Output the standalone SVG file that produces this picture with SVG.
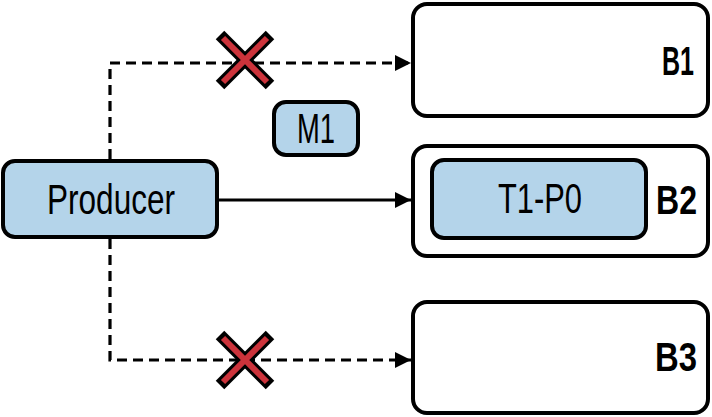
<svg xmlns="http://www.w3.org/2000/svg" width="712" height="417" viewBox="0 0 712 417">
  <style>
    .box { fill: #ffffff; stroke: #000000; stroke-width: 4; }
    .blue { fill: #b4d4ea; stroke: #000000; stroke-width: 4; }
    .lbl { font-family: "Liberation Sans", Arial, sans-serif; font-size: 42px; fill: #000000; }
    .bold { font-weight: bold; font-size: 40px; }
    .conn { fill: none; stroke: #000000; stroke-width: 3.2; }
    .dash { stroke-dasharray: 10 6; }
    .xo { stroke: #000000; stroke-width: 12; stroke-linecap: butt; }
    .xi { stroke: #cc333b; stroke-width: 6; stroke-linecap: butt; }
  </style>
  <defs>
    <marker id="arrow" viewBox="0 0 16 16" refX="16" refY="8" markerWidth="16" markerHeight="16" markerUnits="userSpaceOnUse" orient="auto">
      <path d="M0,0 L16,8 L0,16 Z" fill="#000000"/>
    </marker>
  </defs>

  <g id="connectors">
    <path class="conn dash" d="M110,159 V63 H411" marker-end="url(#arrow)"/>
    <path class="conn dash" d="M110,239 V360 H411" marker-end="url(#arrow)"/>
    <path class="conn" d="M219,200 H411" marker-end="url(#arrow)"/>
    <g id="x-top">
      <line class="xo" x1="220" y1="35" x2="270" y2="85"/>
      <line class="xo" x1="270" y1="35" x2="220" y2="85"/>
      <line class="xi" x1="223" y1="38" x2="267" y2="82"/>
      <line class="xi" x1="267" y1="38" x2="223" y2="82"/>
    </g>
    <g id="x-bottom">
      <line class="xo" x1="220" y1="335" x2="270" y2="385"/>
      <line class="xo" x1="270" y1="335" x2="220" y2="385"/>
      <line class="xi" x1="223" y1="338" x2="267" y2="382"/>
      <line class="xi" x1="267" y1="338" x2="223" y2="382"/>
    </g>
  </g>

  <g id="B1">
    <rect class="box" x="413" y="4" width="295" height="112" rx="14"/>
    <text class="lbl bold" x="694" y="75" text-anchor="end" textLength="32" lengthAdjust="spacingAndGlyphs">B1</text>
  </g>
  <g id="B2">
    <rect class="box" x="413" y="146" width="295" height="110" rx="14"/>
    <text class="lbl bold" x="697" y="214" text-anchor="end" textLength="41" lengthAdjust="spacingAndGlyphs">B2</text>
  </g>
  <g id="T1-P0">
    <rect class="blue" x="432" y="160" width="214" height="78" rx="12"/>
    <text class="lbl" x="540" y="213" text-anchor="middle" textLength="84" lengthAdjust="spacingAndGlyphs">T1-P0</text>
  </g>
  <g id="B3">
    <rect class="box" x="413" y="302" width="295" height="111" rx="14"/>
    <text class="lbl bold" x="697" y="371" text-anchor="end" textLength="42" lengthAdjust="spacingAndGlyphs">B3</text>
  </g>
  <g id="Producer">
    <rect class="blue" x="3" y="161" width="214" height="76" rx="12"/>
    <text class="lbl" x="111" y="214" text-anchor="middle" textLength="128" lengthAdjust="spacingAndGlyphs">Producer</text>
  </g>
  <g id="M1">
    <rect class="blue" x="274" y="102" width="84" height="53" rx="12"/>
    <text class="lbl" x="316" y="143" text-anchor="middle" textLength="38" lengthAdjust="spacingAndGlyphs">M1</text>
  </g>
</svg>
